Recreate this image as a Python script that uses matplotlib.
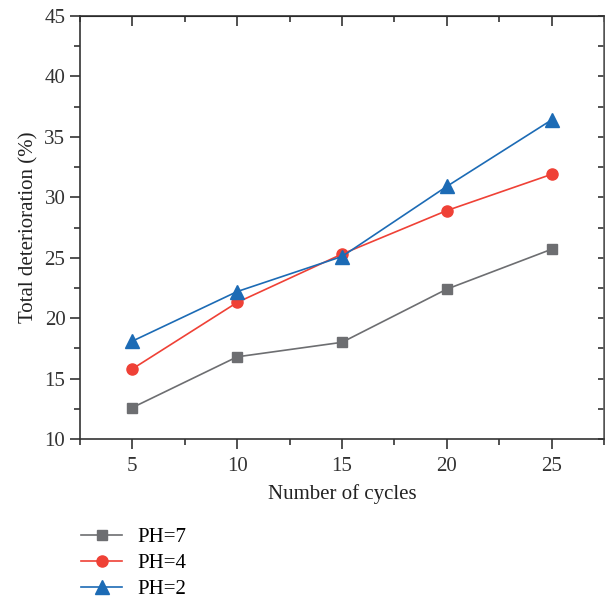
import numpy as np
import matplotlib.pyplot as plt
from matplotlib.ticker import MultipleLocator

plt.rcParams['font.family'] = ['Liberation Serif', 'DejaVu Serif']

# data
cycles = [5, 10, 15, 20, 25]
ph7 = [12.6, 16.8, 18.0, 22.4, 25.7]
ph4 = [15.8, 21.3, 25.3, 28.9, 31.9]
ph2 = [18.1, 22.2, 25.1, 30.9, 36.4]

fig = plt.figure(figsize=(6.05, 6.03), dpi=100)
ax = fig.add_axes([80/605, 1 - 439/603, (604-80)/605, (439-16)/603])

ax.plot(cycles, ph7, color='#6d6e71', marker='s', markersize=7, lw=1.2, label='PH=7')
ax.plot(cycles, ph4, color='#ef4136', marker='o', markersize=8, lw=1.2, label='PH=4')
ax.plot(cycles, ph2, color='#1c6bb5', marker='^', markersize=9.5, lw=1.2, label='PH=2')

ax.set_xlim(2.5, 27.5)
ax.set_ylim(10, 45)
ax.xaxis.set_major_locator(MultipleLocator(5))
ax.xaxis.set_minor_locator(MultipleLocator(2.5))
ax.yaxis.set_major_locator(MultipleLocator(5))
ax.yaxis.set_minor_locator(MultipleLocator(2.5))
ax.tick_params(which='both', direction='out', labelsize=15, width=1.2, colors='#333333')
ax.tick_params(which='major', length=7)
ax.tick_params(which='minor', length=4)
ax.tick_params(axis='x', pad=6)
for s in ax.spines.values():
    s.set_linewidth(1.2)
    s.set_color('#333333')
ax.spines['right'].set_color('#666666')

# top/right ticks point inward
sec_x = ax.secondary_xaxis('top')
sec_x.xaxis.set_major_locator(MultipleLocator(5))
sec_x.xaxis.set_minor_locator(MultipleLocator(2.5))
sec_x.tick_params(which='both', direction='in', labeltop=False, width=1.2, colors='#333333')
sec_x.tick_params(which='major', length=7)
sec_x.tick_params(which='minor', length=4)
sec_y = ax.secondary_yaxis('right')
sec_y.yaxis.set_major_locator(MultipleLocator(5))
sec_y.yaxis.set_minor_locator(MultipleLocator(2.5))
sec_y.tick_params(which='both', direction='in', labelright=False, width=1.2, length=4, colors='#333333')

ax.set_xlabel('Number of cycles', fontsize=15, color='#222222', labelpad=6)
ax.set_ylabel('Total deterioration (%)', fontsize=15, color='#222222')

fig.legend(loc='upper left', bbox_to_anchor=(62/605, 1 - 509/603), frameon=False,
           fontsize=15, handlelength=2.0, handletextpad=0.7, labelspacing=0.3)

fig.savefig('out.png', dpi=100)
